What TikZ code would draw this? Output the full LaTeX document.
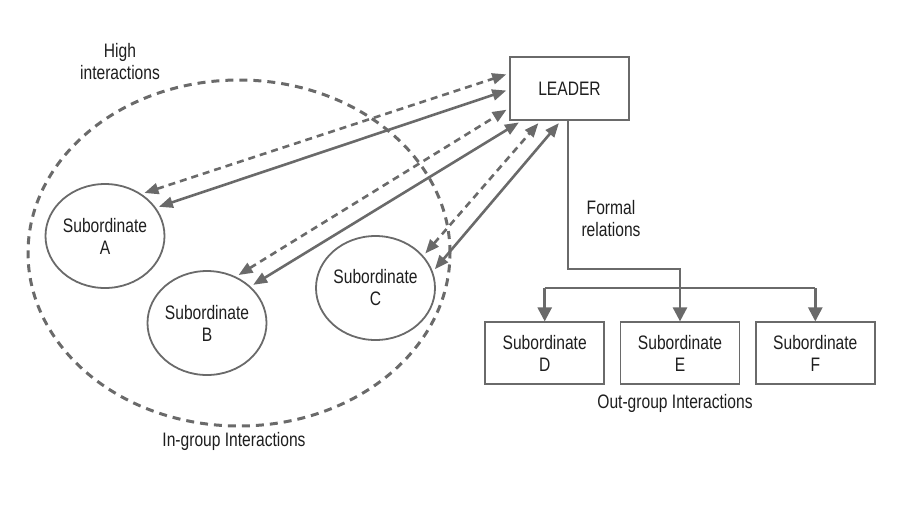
\documentclass[tikz,border=0pt]{standalone}
\usepackage{fontspec}
\setmainfont{Liberation Sans}[FakeStretch=0.8]
\usepackage{xcolor}
\usepackage{tikz}
\usetikzlibrary{arrows.meta,shapes.geometric,positioning}
\definecolor{linegray}{HTML}{6A6A6A}
\definecolor{textgray}{HTML}{1E1E1E}

\begin{document}
\begin{tikzpicture}[x=1pt,y=-1pt,
                    font=\fontsize{19.5}{22}\selectfont,text=textgray,
                    sub node/.style={ellipse,draw=linegray,line width=1.8pt,minimum width=119pt,
                                     minimum height=104pt,inner sep=0pt,align=center},
                    box node/.style={rectangle,draw=linegray,line width=1.8pt,minimum width=119pt,
                                     minimum height=62pt,inner sep=0pt,align=center},
                    link/.style={draw=linegray,line width=2.6pt,
                                 {Triangle[length=14pt,width=11pt]}-{Triangle[length=14pt,width=11pt]},
                                 shorten <=3pt,shorten >=3pt},
                    soft link/.style={link,dash pattern=on 7pt off 5pt},
                    tree/.style={draw=linegray,line width=2.6pt},
                    tree arrow/.style={tree,-{Triangle[length=14pt,width=14pt]}}]

  \useasboundingbox (0,0) rectangle (904,515);

  % in-group
  \node[ellipse,draw=linegray,line width=3pt,dash pattern=on 8pt off 6pt,
        minimum width=422pt,minimum height=346pt] (ingroup) at (239,253) {};
  \node[sub node] (A) at (105,236) {Subordinate\\A};
  \node[sub node] (B) at (207,323) {Subordinate\\B};
  \node[sub node] (C) at (375.5,288) {Subordinate\\C};
  \node[align=center] (high) at (120,62) {High\\interactions};
  \node (inlabel) at (234,441) {In-group Interactions};

  % leader and out-group
  \node[box node,minimum height=63pt] (leader) at (569.5,88.5) {LEADER};
  \node[box node] (D) at (544.7,353.3) {Subordinate\\D};
  \node[box node] (E) [right=14.5pt of D] {Subordinate\\E};
  \node[box node] (F) [right=14.5pt of E] {Subordinate\\F};
  \node[align=center] (formal) at (611,219) {Formal\\relations};
  \node (outlabel) at (675,403) {Out-group Interactions};

  \path
    (A.49) edge[soft link] (leader.166)
    (A.29) edge[link] (leader.181)
    (B.58) edge[soft link] (leader.198)
    (B.40) edge[link] (leader.214)
    (C.34) edge[soft link] (leader.228)
    (C.16) edge[link] (leader.255);

  \coordinate (bend) at (0,269);
  \coordinate (bar) at (0,288);
  \draw[tree] (leader.south -| 568,0) |- (E.north |- bend) -- (E.north |- bar);
  \draw[tree] (D.north |- bar) -- (F.north |- bar);
  \draw[tree arrow] (D.north |- bar) -- (D.north);
  \draw[tree arrow] (E.north |- bar) -- (E.north);
  \draw[tree arrow] (F.north |- bar) -- (F.north);

\end{tikzpicture}
\end{document}
